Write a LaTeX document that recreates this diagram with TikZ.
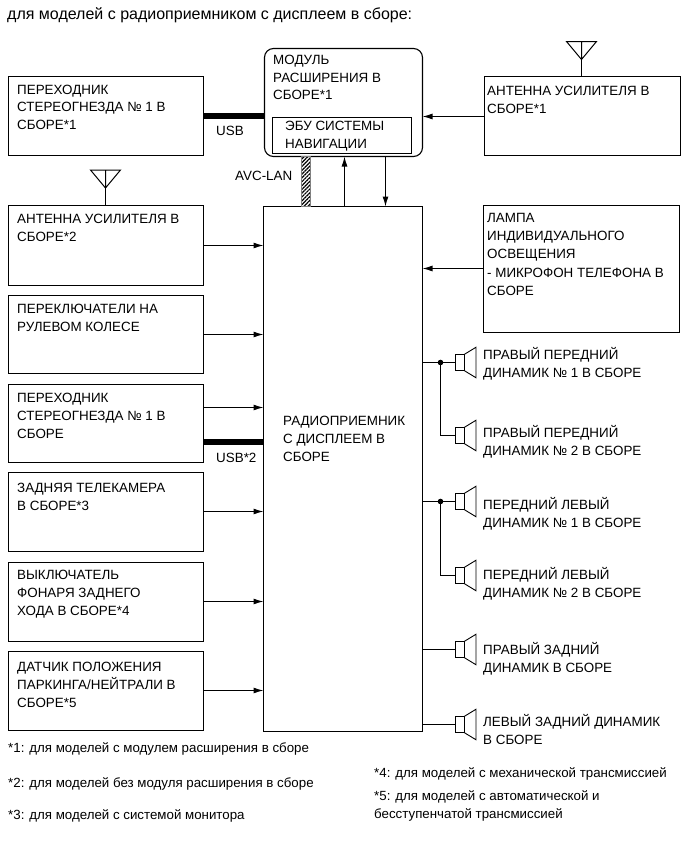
\documentclass[tikz,border=0pt]{standalone}
\usepackage{fontspec}
\setmainfont{Liberation Sans}
\usepackage{xcolor}
\usetikzlibrary{arrows.meta,positioning,patterns.meta}

\begin{document}
\begin{tikzpicture}[
  x=1pt, y=1pt,
  box/.style={rectangle, draw, line width=1.1pt, anchor=north west, inner sep=0pt, outer sep=0pt},
  leftbox/.style={box, minimum width=195pt, minimum height=79pt},
  rightbox/.style={box, minimum width=196pt},
  tag/.style={anchor=north west, align=left, inner sep=0pt, font=\fontsize{13.4}{17.7}\selectfont, execute at begin node=\strut},
  txt/.style={tag, yshift=-2.8pt},
  note/.style={anchor=north west, align=left, inner sep=0pt, font=\fontsize{13.3}{18}\selectfont, execute at begin node=\strut},
  arr/.style={-{Latex[length=10pt,width=6pt]}, line width=1.1pt},
  wire/.style={line width=1.1pt},
  usb/.style={line width=6pt},
  spkbody/.style={rectangle, draw, line width=.9pt, minimum width=9pt, minimum height=16.5pt, inner sep=0pt, outer sep=0pt},
  aerial/.pic={\draw[line width=1pt] (0,0) -- (0,-18) (-15,0) -- (15,0) -- (0,-18) -- cycle;}
]
\useasboundingbox (0,0) rectangle (689,-854);

\node[note, font=\fontsize{16}{18}\selectfont] (title) at (7,-6.8) {для моделей с радиоприемником с дисплеем в сборе:};

% central units
\node[box, minimum width=159pt, minimum height=525pt] (radio) at (263.5,-206.5) {};
\node[box, rounded corners=9pt, minimum width=158pt, minimum height=108pt] (module) at (264.5,-48.5) {};
\node[box, minimum width=139pt, minimum height=36pt] (ecu) at (272.5,-117.5) {};
\node[txt] (moduletxt) at (273,-52.1) {МОДУЛЬ\\РАСШИРЕНИЯ В\\СБОРЕ*1};
\node[txt] (ecutxt) at (285,-118.6) {ЭБУ СИСТЕМЫ\\НАВИГАЦИИ};
\node[txt] (radiotxt) at (283,-413.6) {РАДИОПРИЕМНИК\\С ДИСПЛЕЕМ В\\СБОРЕ};

% left column
\node[leftbox] (adapter) at (8.5,-76.5) {};
\node[leftbox, minimum height=80pt] (antleft) at (8.5,-205.5) {};
\node[leftbox, minimum height=78pt] (wheel) at (8.5,-295.5) {};
\node[leftbox, minimum height=78pt] (jack) at (8.5,-384.5) {};
\node[leftbox] (camera) at (8.5,-472.5) {};
\node[leftbox] (reverse) at (8.5,-562.5) {};
\node[leftbox] (park) at (8.5,-651.5) {};
\node[txt] at (17,-81.9) {ПЕРЕХОДНИК\\СТЕРЕОГНЕЗДА № 1 В\\СБОРЕ*1};
\node[txt] at (17,-211.6) {АНТЕННА УСИЛИТЕЛЯ В\\СБОРЕ*2};
\node[txt] at (17,-301.6) {ПЕРЕКЛЮЧАТЕЛИ НА\\РУЛЕВОМ КОЛЕСЕ};
\node[txt] at (17,-390.6) {ПЕРЕХОДНИК\\СТЕРЕОГНЕЗДА № 1 В\\СБОРЕ};
\node[txt] at (17,-480.6) {ЗАДНЯЯ ТЕЛЕКАМЕРА\\В СБОРЕ*3};
\node[txt] at (17,-567.6) {ВЫКЛЮЧАТЕЛЬ\\ФОНАРЯ ЗАДНЕГО\\ХОДА В СБОРЕ*4};
\node[txt] at (17,-659.6) {ДАТЧИК ПОЛОЖЕНИЯ\\ПАРКИНГА/НЕЙТРАЛИ В\\СБОРЕ*5};

% right column
\node[rightbox, minimum height=79pt] (antright) at (484.5,-76.5) {};
\node[rightbox, minimum height=127pt] (lamp) at (483.5,-205.5) {};
\node[txt] at (487,-83.6) {АНТЕННА УСИЛИТЕЛЯ В\\СБОРЕ*1};
\node[txt] at (487,-210.6) {ЛАМПА\\ИНДИВИДУАЛЬНОГО\\ОСВЕЩЕНИЯ\\[1.5pt]- МИКРОФОН ТЕЛЕФОНА В\\СБОРЕ};

% antennas
\pic at (581.5,-41.5) {aerial};
\pic at (105.5,-170) {aerial};
\coordinate (mastright) at (581.5,-59.5);
\coordinate (mastleft) at (105.5,-188);
\draw[wire] (mastright) -- (mastright |- antright.north);
\draw[wire] (mastleft) -- (mastleft |- antleft.north);

% links between units
\draw[usb] (adapter.east) -- (adapter.east -| module.west);
\node[tag] (usblabel) at (216,-122.6) {USB};
\draw[arr] ([yshift=-.5pt]antright.west) -- ([yshift=-.5pt]antright.west -| module.east);
\node[rectangle, draw=gray, line width=.5pt, pattern={Lines[angle=45,distance=2.7pt,line width=1.2pt]}, minimum width=9pt, minimum height=50pt, inner sep=0pt] (avc) at (305.5,-181.5) {};
\node[tag] (avclabel) at (235,-167.6) {AVC-LAN};
\coordinate (upline) at (344.5,-206.5);
\coordinate (downline) at (385.5,-156.5);
\draw[arr] (upline) -- (upline |- module.south);
\draw[arr] (downline) -- (downline |- radio.north);

\draw[arr] (antleft.east) -- (antleft.east -| radio.west);
\draw[arr] (wheel.east) -- (wheel.east -| radio.west);
\draw[arr] ([yshift=16pt]jack.east) -- ([yshift=16pt]jack.east -| radio.west);
\draw[usb] ([yshift=-18pt]jack.east) -- ([yshift=-18pt]jack.east -| radio.west);
\node[tag] (usbtwo) at (216,-449.6) {USB*2};
\draw[arr] ([yshift=.5pt]camera.east) -- ([yshift=.5pt]camera.east -| radio.west);
\draw[arr] ([yshift=.5pt]reverse.east) -- ([yshift=.5pt]reverse.east -| radio.west);
\draw[arr] ([yshift=.5pt]park.east) -- ([yshift=.5pt]park.east -| radio.west);
\draw[arr] ([yshift=.5pt]lamp.west) -- ([yshift=.5pt]lamp.west -| radio.east);

% speakers
\foreach \name/\ypos in {frontrighta/362.5, frontrightb/435.5, frontlefta/501.5, frontleftb/575.5, rearright/649.5, rearleft/724.5} {
  \node[spkbody] (\name) at (460,-\ypos) {};
  \draw[line width=.9pt] (\name.north east) -- ++(11.5,7) -- ++(0,-30.5) -- (\name.south east);
}
\node[txt] at (483,-344.7) {ПРАВЫЙ ПЕРЕДНИЙ\\ДИНАМИК № 1 В СБОРЕ};
\node[txt] at (483,-422.7) {ПРАВЫЙ ПЕРЕДНИЙ\\ДИНАМИК № 2 В СБОРЕ};
\node[txt] at (483,-494.7) {ПЕРЕДНИЙ ЛЕВЫЙ\\ДИНАМИК № 1 В СБОРЕ};
\node[txt] at (483,-564.7) {ПЕРЕДНИЙ ЛЕВЫЙ\\ДИНАМИК № 2 В СБОРЕ};
\node[txt] at (483,-639.7) {ПРАВЫЙ ЗАДНИЙ\\ДИНАМИК В СБОРЕ};
\node[txt] at (483,-711.7) {ЛЕВЫЙ ЗАДНИЙ ДИНАМИК\\В СБОРЕ};

\coordinate (busright) at (440.5,-362.5);
\coordinate (busleft) at (440.5,-501.5);
\draw[wire] (radio.east |- frontrighta) -- (frontrighta.west);
\draw[wire] (busright) |- (frontrightb.west);
\fill (busright) circle (2.8);
\draw[wire] (radio.east |- frontlefta) -- (frontlefta.west);
\draw[wire] (busleft) |- (frontleftb.west);
\fill (busleft) circle (2.8);
\draw[wire] (radio.east |- rearright) -- (rearright.west);
\draw[wire] (radio.east |- rearleft) -- (rearleft.west);

% footnotes
\node[note] at (8,-739.4) {*1: для моделей с модулем расширения в сборе};
\node[note] at (8,-774.4) {*2: для моделей без модуля расширения в сборе};
\node[note] at (8,-806.4) {*3: для моделей с системой монитора};
\node[note] at (374,-764.4) {*4: для моделей с механической трансмиссией};
\node[note] at (374,-790.2) {*5: для моделей с автоматической и\\бесступенчатой трансмиссией};
\end{tikzpicture}
\end{document}
